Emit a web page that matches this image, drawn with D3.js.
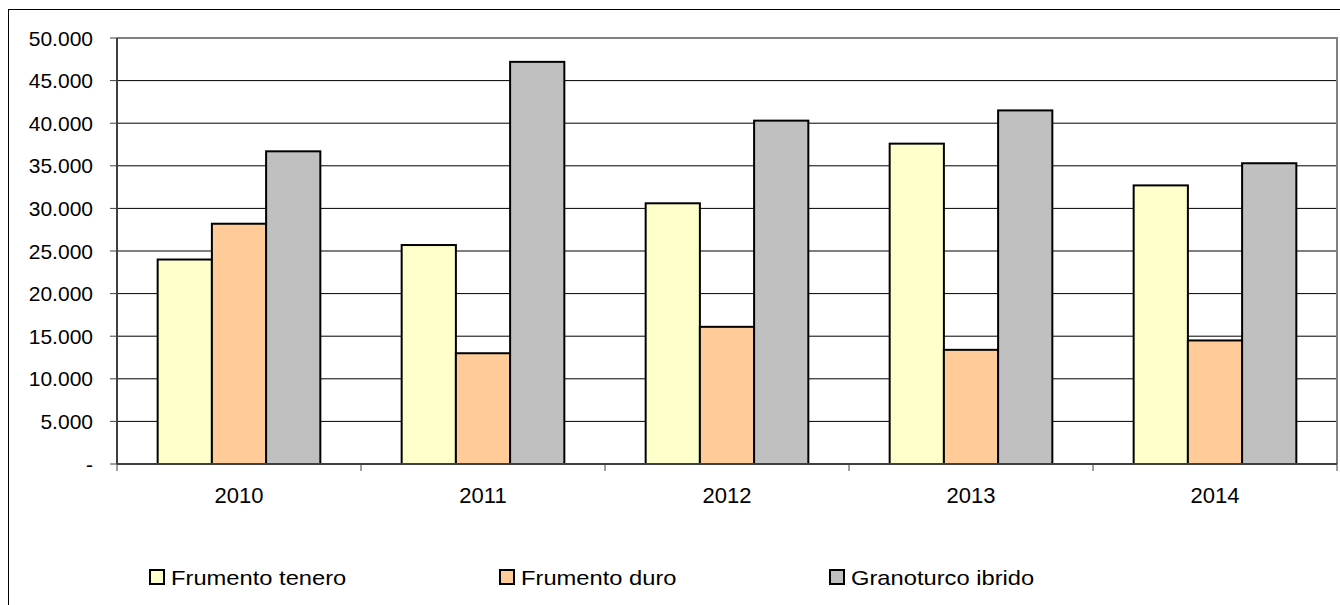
<!DOCTYPE html>
<html>
<head>
<meta charset="utf-8">
<script src="https://cdn.jsdelivr.net/npm/d3@7"></script>
<style>
  html, body { margin: 0; padding: 0; background: #fff; }
  svg { display: block; }
  text { font-family: Arial, "Liberation Sans", sans-serif; fill: #000; }
</style>
</head>
<body>
<svg id="chart" width="1340" height="605"></svg>
<script>
const categories = ["2010", "2011", "2012", "2013", "2014"];
const seriesNames = ["Frumento tenero", "Frumento duro", "Granoturco ibrido"];
const frumentoTenero = [24000, 25700, 30600, 37600, 32700];
const frumentoDuro = [28200, 13000, 16100, 13400, 14500];
const granoturcoIbrido = [36700, 47200, 40300, 41500, 35300];
const yTicks = [0, 5000, 10000, 15000, 20000, 25000, 30000, 35000, 40000, 45000, 50000];
const colors = ["#FFFFCC", "#FFCC99", "#C0C0C0"];

const seriesValues = [frumentoTenero, frumentoDuro, granoturcoIbrido];

const svg = d3.select("#chart");
const plot = { left: 117, right: 1337, top: 38, bottom: 464 };
const fontSize = 21;

// outer border
svg.append("rect")
  .attr("x", 8.5).attr("y", 9.5)
  .attr("width", 1340).attr("height", 610)
  .attr("fill", "#fff").attr("stroke", "#000").attr("stroke-width", 1);

const x0 = d3.scaleBand().domain(categories)
  .range([plot.left, plot.right])
  .paddingInner(1/3).paddingOuter(1/6);
const x1 = d3.scaleBand().domain(seriesNames)
  .range([0, x0.bandwidth()]).padding(0);
const y = d3.scaleLinear().domain([0, 50000]).range([plot.bottom, plot.top]);

const fmt = v => v === 0 ? "-" : d3.format(",.0f")(v).replace(/,/g, ".");

// gridlines
svg.append("g").selectAll("line")
  .data(yTicks.filter(t => t > 0 && t < 50000))
  .join("line")
  .attr("x1", plot.left).attr("x2", plot.right)
  .attr("y1", d => y(d)).attr("y2", d => y(d))
  .attr("stroke", "#000").attr("stroke-width", 1);

// plot area border (top/right gray)
svg.append("path")
  .attr("d", `M${plot.left},${plot.top}H${plot.right}V${plot.bottom}`)
  .attr("fill", "none").attr("stroke", "#808080").attr("stroke-width", 2);

// bars
const groups = svg.append("g").selectAll("g")
  .data(categories)
  .join("g")
  .attr("transform", d => `translate(${x0(d)},0)`);

groups.selectAll("rect")
  .data((d, i) => seriesNames.map((s, j) => ({ s, j, v: seriesValues[j][i] })))
  .join("rect")
  .attr("x", d => x1(d.s))
  .attr("width", x1.bandwidth())
  .attr("y", d => y(d.v))
  .attr("height", d => y(0) - y(d.v))
  .attr("fill", d => colors[d.j])
  .attr("stroke", "#000").attr("stroke-width", 2);

// y axis
const yAxis = svg.append("g");
yAxis.append("line")
  .attr("x1", plot.left).attr("x2", plot.left)
  .attr("y1", plot.top).attr("y2", plot.bottom)
  .attr("stroke", "#404040").attr("stroke-width", 2);
yAxis.selectAll("line.tick").data(yTicks).join("line")
  .attr("class", "tick")
  .attr("x1", plot.left - 7).attr("x2", plot.left)
  .attr("y1", d => y(d)).attr("y2", d => y(d))
  .attr("stroke", "#404040").attr("stroke-width", 1);
yAxis.selectAll("text").data(yTicks).join("text")
  .attr("x", 93).attr("y", d => y(d))
  .attr("dy", "0.36em")
  .attr("text-anchor", "end")
  .style("font-size", fontSize + "px")
  .text(fmt);

// x axis
const xAxis = svg.append("g");
xAxis.append("line")
  .attr("x1", plot.left).attr("x2", plot.right)
  .attr("y1", plot.bottom).attr("y2", plot.bottom)
  .attr("stroke", "#404040").attr("stroke-width", 2);
const tickPos = categories.map(c => x0(c) - x0.step() * x0.paddingOuter()).concat([plot.right]);
xAxis.selectAll("line.tick").data(tickPos).join("line")
  .attr("class", "tick")
  .attr("x1", d => d).attr("x2", d => d)
  .attr("y1", plot.bottom).attr("y2", plot.bottom + 7)
  .attr("stroke", "#404040").attr("stroke-width", 1);
xAxis.selectAll("text").data(categories).join("text")
  .attr("x", d => x0(d) + x0.bandwidth() / 2)
  .attr("y", 503)
  .attr("text-anchor", "middle")
  .style("font-size", "22px")
  .text(d => d);

// legend
const legendX = [150, 500, 830];
const legend = svg.append("g").selectAll("g")
  .data(seriesNames).join("g")
  .attr("transform", (d, i) => `translate(${legendX[i]},570)`);
legend.append("rect")
  .attr("x", 0).attr("y", 0).attr("width", 14).attr("height", 14)
  .attr("fill", (d, i) => colors[i])
  .attr("stroke", "#000").attr("stroke-width", 2);
legend.append("text")
  .attr("transform", "translate(21,15) scale(1.13,1)")
  .style("font-size", fontSize + "px")
  .text(d => d);
</script>
</body>
</html>
